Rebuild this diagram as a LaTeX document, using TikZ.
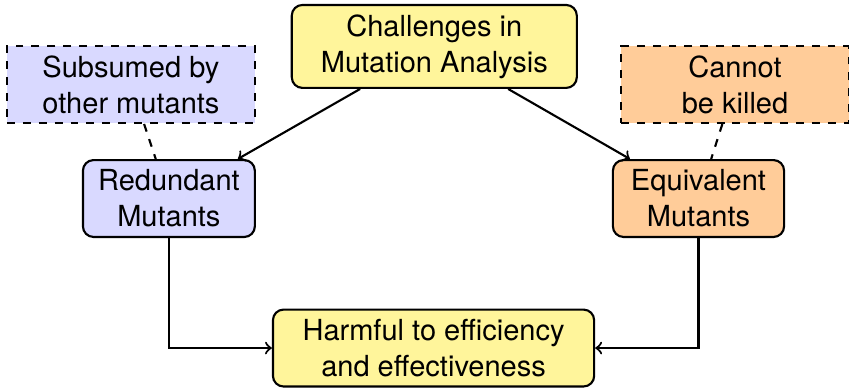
\documentclass[tikz,border=0pt]{standalone}
\usepackage{fontspec}
\setmainfont{TeX Gyre Heros}
\definecolor{hlyellow}{RGB}{255,245,155}

\begin{document}
\begin{tikzpicture}[
    font=\fontsize{10.95}{13.6}\selectfont,
    box/.style={draw, thick, rounded corners, align=center, minimum height=1.02cm, inner sep=2pt},
    note/.style={draw, thick, dashed, align=center, minimum height=1.02cm, inner sep=2pt},
    link/.style={thick}]
    \useasboundingbox (0,0) rectangle (11.26,5.146);
    %main nodes
    \node[box, fill=hlyellow, minimum width=3.78cm, minimum height=1.1cm] (challenges) at (5.76,4.53)
        {Challenges in\\Mutation Analysis};
    \node[box, fill=blue!15, minimum width=2.28cm] (redundant) at (2.24,2.513) {Redundant\\Mutants};
    \node[box, fill=orange!40, minimum width=2.27cm] (equivalent) at (9.264,2.513) {Equivalent\\Mutants};
    \node[box, fill=hlyellow, minimum width=4.26cm] (harmful) at (5.75,0.53)
        {Harmful to efficiency\\and effectiveness};
    %notes
    \node[note, fill=blue!15, minimum width=3.29cm] (subsumed) at (1.737,4.025) {Subsumed by\\other mutants};
    \node[note, fill=orange!40, minimum width=3.02cm] (killed) at (9.748,4.025) {Cannot\\be killed};
    %connectors
    \draw[link, ->] (challenges) -- (redundant);
    \draw[link, ->] (challenges) -- (equivalent);
    \draw[link, dashed] (subsumed) -- (redundant);
    \draw[link, dashed] (killed) -- (equivalent);
    \draw[link, ->] (redundant) |- (harmful);
    \draw[link, ->] (equivalent) |- (harmful);
\end{tikzpicture}
\end{document}
